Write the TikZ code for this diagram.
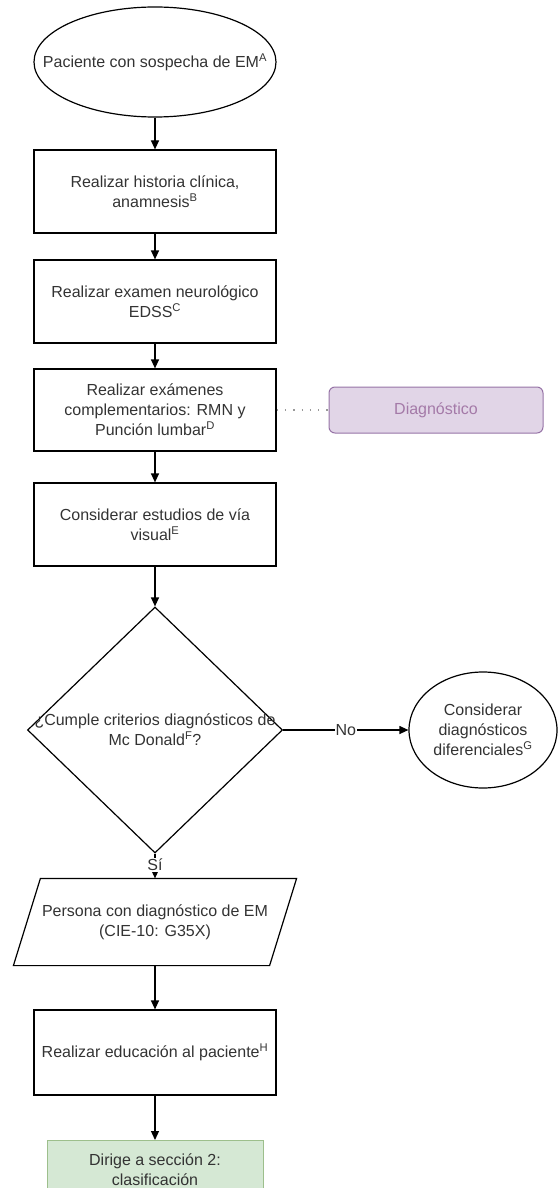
\documentclass[tikz,border=0pt]{standalone}
\usepackage{fontspec}
\setmainfont{Liberation Sans}
\usetikzlibrary{shapes.geometric,arrows.meta}
\definecolor{txt}{HTML}{333333}
\definecolor{purpfill}{HTML}{E1D5E7}
\definecolor{purpline}{HTML}{9673A6}
\definecolor{purptxt}{HTML}{A47AA8}
\definecolor{greenfill}{HTML}{D5E8D4}
\definecolor{greenline}{HTML}{9DBF8C}
\tikzset{
  base/.style={font=\fontsize{16}{20}\selectfont, text=txt, align=center, inner sep=0pt, line width=1.2pt},
  procbox/.style={base, draw, rectangle, minimum width=242pt},
  ellshape/.style={draw, ellipse, inner sep=0pt, line width=1.2pt},
  decision/.style={draw, diamond, line width=1.2pt, inner sep=0pt},
  flow/.style={line width=1.2pt, -{Triangle[length=9pt,width=8pt]}},
  lbl/.style={base, fill=white, inner sep=1pt},
}
\begin{document}
\begin{tikzpicture}[x=1pt,y=-1pt]
\useasboundingbox (0,0) rectangle (557,1188);
% nodes
\node[ellshape, minimum width=242pt, minimum height=110pt] (start) at (155,62) {};
\node[base] (starttext) at (155,62) {Paciente con sospecha de EM\textsuperscript{A}};
\node[procbox, minimum height=83pt] (hist) at (155,191.5) {Realizar historia clínica,\\anamnesis\textsuperscript{B}};
\node[procbox, minimum height=83pt] (neuro) at (155,301.5) {Realizar examen neurológico\\EDSS\textsuperscript{C}};
\node[procbox, minimum height=82pt] (compl) at (155,410) {Realizar exámenes\\complementarios: RMN y\\Punción lumbar\textsuperscript{D}};
\node[base, draw=purpline, fill=purpfill, text=purptxt, rounded corners=6pt, minimum width=214pt, minimum height=46pt, line width=1pt] (diag) at (436,410) {Diagnóstico};
\node[procbox, minimum height=83pt] (visual) at (155,524.5) {Considerar estudios de vía\\visual\textsuperscript{E}};
\node[decision, minimum width=255pt, minimum height=246pt] (dec) at (155,730) {};
\node[base] (dectext) at (155,730) {¿Cumple criterios diagnósticos de\\Mc Donald\textsuperscript{F}?};
\node[ellshape, minimum width=148pt, minimum height=116pt] (difer) at (483,730) {};
\node[base] (difertext) at (483,730) {Considerar\\diagnósticos\\diferenciales\textsuperscript{G}};
\node[base, minimum width=282pt, minimum height=86pt] (pers) at (155,922) {Persona con diagnóstico de EM\\(CIE-10: G35X)};
\draw[line width=1.2pt] ([xshift=27pt]pers.north west) -- (pers.north east) -- ([xshift=-27pt]pers.south east) -- (pers.south west) -- cycle;
\node[procbox, minimum height=85pt] (educ) at (155,1052.5) {Realizar educación al paciente\textsuperscript{H}};
\node[base, draw=greenline, fill=greenfill, minimum width=216pt, minimum height=60pt, line width=1pt, anchor=north] (sec2) at (155,1140) {};
\node[base] (sec2text) at (155,1170) {Dirige a sección 2:\\clasificación};
% connectors
\draw[flow] (start) -- (hist);
\draw[flow] (hist) -- (neuro);
\draw[flow] (neuro) -- (compl);
\draw[flow] (compl) -- (visual);
\draw[flow] (visual) -- (dec.north);
\draw[flow] (dec.east) -- node[lbl]{No} (difer.west);
\draw[flow] (dec.south) -- node[lbl, pos=0.45]{Sí} (pers.north);
\draw[flow] (pers) -- (educ);
\draw[flow] (educ) -- (sec2);
\draw[line width=1.3pt, gray!80, dash pattern=on 1.3pt off 7pt] (compl.east) -- (diag.west);
\end{tikzpicture}
\end{document}
